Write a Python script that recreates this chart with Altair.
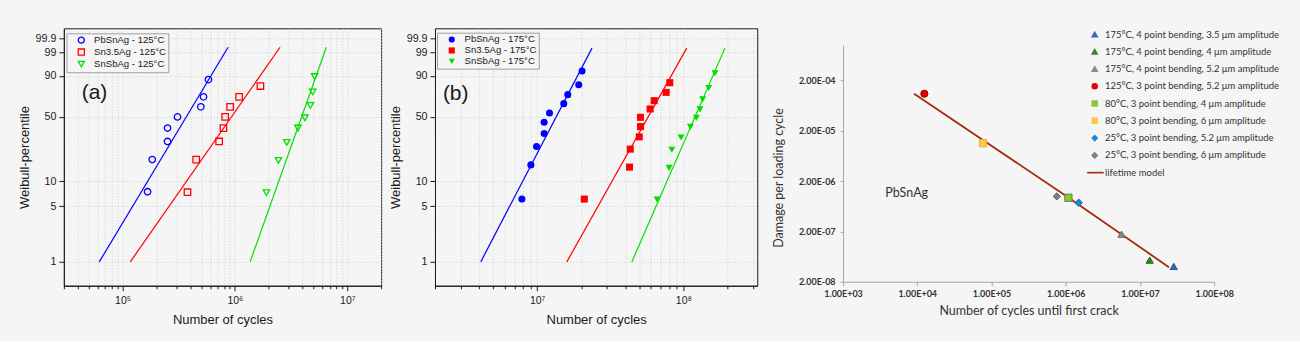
import altair as alt
import numpy as np
import pandas as pd

# ---------------- data ----------------
# Panel (a): 125 °C Weibull plot
a_series = ['PbSnAg - 125°C', 'Sn3.5Ag - 125°C', 'SnSbAg - 125°C']
a_pb_cycles = [1.668e5, 1.835e5, 2.512e5, 2.512e5, 3.08e5, 4.97e5, 5.25e5, 5.81e5]
a_pb_pct = [7.5, 18.1, 28.7, 39.4, 50.0, 60.6, 71.2, 87.3]
a_sn_cycles = [3.78e5, 4.52e5, 7.23e5, 7.90e5, 8.18e5, 9.06e5, 1.089e6, 1.685e6]
a_sn_pct = [7.4, 18.1, 28.7, 39.4, 50.0, 60.6, 71.2, 81.9]
a_sb_cycles = [1.905e6, 2.436e6, 2.89e6, 3.64e6, 4.20e6, 4.69e6, 4.92e6, 5.12e6]
a_sb_pct = [7.3, 17.7, 28.1, 39.4, 49.1, 62.0, 76.2, 89.5]
a_fit_pct = [1.0, 99.5]
a_fit_pb = [6.2e4, 8.69e5]
a_fit_sn = [1.17e5, 2.52e6]
a_fit_sb = [1.364e6, 6.51e6]

# Panel (b): 175 °C Weibull plot
b_series = ['PbSnAg - 175°C', 'Sn3.5Ag - 175°C', 'SnSbAg - 175°C']
b_pb_cycles = [7.86e6, 9.05e6, 9.90e6, 1.116e7, 1.116e7, 1.214e7, 1.52e7, 1.619e7, 1.924e7, 2.027e7]
b_pb_pct = [6.1, 15.7, 25.3, 34.7, 44.8, 54.1, 64.0, 73.5, 83.1, 92.9]
b_sn_cycles = [2.10e7, 4.28e7, 4.33e7, 4.99e7, 5.09e7, 5.09e7, 5.92e7, 6.31e7, 7.62e7, 8.07e7]
b_sn_pct = [6.1, 14.8, 23.7, 32.1, 40.7, 49.6, 58.3, 67.2, 75.8, 84.8]
b_sb_cycles = [6.61e7, 7.99e7, 8.33e7, 9.64e7, 1.116e8, 1.226e8, 1.299e8, 1.354e8, 1.488e8, 1.644e8]
b_sb_pct = [6.0, 14.5, 23.3, 31.6, 40.4, 49.0, 57.9, 68.6, 80.1, 91.6]
b_fit_pct = [1.0, 99.43]
b_fit_pb = [4.11e6, 2.37e7]
b_fit_sn = [1.594e7, 1.054e8]
b_fit_sb = [4.44e7, 1.924e8]

# Weibull axis tick labels (percent)
pct_ticks = [1, 5, 10, 50, 90, 99, 99.9]

# Panel (c): damage per loading cycle vs cycles until first crack
c_series = [
    '175°C, 4 point bending, 3.5 μm amplitude',
    '175°C, 4 point bending, 4 μm amplitude',
    '175°C, 4 point bending, 5.2 μm amplitude',
    '125°C, 3 point bending, 5.2 μm amplitude',
    '80°C, 3 point bending, 4 μm amplitude',
    '80°C, 3 point bending, 6 μm amplitude',
    '25°C, 3 point bending, 5.2 μm amplitude',
    '25°C, 3 point bending, 6 μm amplitude',
]
c_cycles = [2.85e7, 1.352e7, 5.65e6, 1.245e4, 1.087e6, 7.68e4, 1.495e6, 7.57e5]
c_damage = [4.03e-8, 5.37e-8, 1.76e-7, 1.089e-4, 9.35e-7, 1.131e-5, 7.45e-7, 9.94e-7]
model_name = 'lifetime model'
model_cycles = [9.05e3, 1.0e6, 2.455e7]
model_damage = [1.089e-4, 1.026e-6, 3.9e-8]
c_x_ticks = [1e3, 1e4, 1e5, 1e6, 1e7, 1e8]
c_y_ticks = [2e-8, 2e-7, 2e-6, 2e-5, 2e-4]

# ---------------- styling ----------------
BG = '#f5f5f5'
FONT_A = 'Liberation Sans'
FONT_C = 'Lato'
INK = '#1a1a1a'
GRID = '#cfcfcf'
ABC_COLORS = ['#0000ff', '#ff0000', '#00e000']

SUP = str.maketrans('0123456789-', '⁰¹²³⁴⁵⁶⁷⁸⁹⁻')


def weib(p):
    p = np.asarray(p, dtype=float) / 100.0
    return np.log(-np.log(1.0 - p))


def pct_label_expr(ticks):
    expr = "''"
    for t, w in zip(ticks, weib(ticks)):
        expr = f"abs(datum.value - ({w:.10f})) < 1e-6 ? '{t:g}' : ({expr})"
    return expr


def pow_label_expr(exps):
    expr = "''"
    for e in exps:
        expr = (f"abs(log(datum.value)/LN10 - ({e})) < 1e-6 ? "
                f"'10{str(e).translate(SUP)}' : ({expr})")
    return expr


def log_minor(lo, hi):
    vals = []
    e = int(np.floor(np.log10(lo)))
    while 10.0 ** e <= hi:
        for k in range(2, 10):
            v = k * 10.0 ** e
            if lo <= v <= hi:
                vals.append(float(v))
        e += 1
    return vals


def frame(series, xs_list, ps_list):
    rows = []
    for s, xs, ps in zip(series, xs_list, ps_list):
        for x, p in zip(xs, ps):
            rows.append({'series': s, 'cycles': x, 'pct': p})
    df = pd.DataFrame(rows)
    df['w'] = weib(df['pct'])
    return df


def weibull_panel(series, pt_x, pt_p, fit_x, fit_p, shapes, filled, xdom,
                  tag, tag_x, tag_p, leg_x, leg_y, width, height, msize):
    pts = frame(series, pt_x, pt_p)
    fit = frame(series, fit_x, [fit_p] * len(series))
    ann = pd.DataFrame({'cycles': [tag_x], 'w': weib([tag_p]), 'label': [tag]})

    xscale = alt.Scale(type='log', domain=xdom, nice=False)
    yscale = alt.Scale(domain=[float(v) for v in weib([0.5, 99.99])], nice=False, zero=False)
    e0 = int(np.ceil(np.log10(xdom[0])))
    e1 = int(np.floor(np.log10(xdom[1])))
    exps = list(range(e0, e1 + 1))
    majors = [10.0 ** e for e in exps]
    minors = log_minor(*xdom)

    leg = alt.Legend(title=None, orient='none', legendX=leg_x, legendY=leg_y,
                     fillColor=BG, strokeColor='#a0a0a0', padding=2,
                     labelFont=FONT_A, labelFontSize=9.6, labelColor=INK,
                     symbolSize=38, symbolStrokeWidth=1.3, rowPadding=0,
                     symbolOffset=8, labelOffset=8)

    y_axis = alt.Axis(values=[float(v) for v in weib(pct_ticks)],
                      labelExpr=pct_label_expr(pct_ticks), tickSize=5,
                      title='Weibull-percentile', grid=True, gridColor=GRID,
                      gridDash=[1, 2], domainColor=INK, tickColor=INK,
                      labelColor=INK, titleColor=INK, labelFont=FONT_A,
                      labelFontSize=10.7, titleFont=FONT_A, titleFontSize=13,
                      titleFontWeight='normal', labelPadding=3, titlePadding=4,
                      labelOverlap=False, labelFlush=False)

    # the fit lines use their own stroke scale (reversed order so that its
    # hidden legend is not merged with the visible marker legend)
    lines = alt.Chart(fit).mark_line(strokeWidth=1.2, clip=True).encode(
        x=alt.X('cycles:Q', scale=xscale,
                axis=alt.Axis(values=minors, labels=False, tickSize=3, title=None,
                              orient='bottom', grid=True, gridColor=GRID, gridDash=[1, 2],
                              domain=False, tickColor=INK)),
        y=alt.Y('w:Q', scale=yscale, axis=y_axis),
        stroke=alt.Stroke('series:N',
                          scale=alt.Scale(domain=series[::-1], range=ABC_COLORS[::-1]),
                          legend=None),
        detail='series:N',
    )

    points = alt.Chart(pts).mark_point(filled=filled, size=msize, strokeWidth=1.3,
                                       opacity=1).encode(
        x=alt.X('cycles:Q', scale=xscale,
                axis=alt.Axis(values=majors, labelExpr=pow_label_expr(exps), tickSize=5,
                              title='Number of cycles', orient='bottom', grid=True,
                              gridColor=GRID, gridDash=[1, 2], domainColor=INK,
                              tickColor=INK, labelColor=INK, titleColor=INK,
                              labelFont=FONT_A, labelFontSize=10.5, titleFont=FONT_A,
                              titleFontSize=13, titleFontWeight='normal',
                              labelPadding=5, titlePadding=7, labelFlush=False,
                              labelOverlap=False)),
        y=alt.Y('w:Q', scale=yscale, axis=y_axis),
        color=alt.Color('series:N', scale=alt.Scale(domain=series, range=ABC_COLORS),
                        legend=leg),
        shape=alt.Shape('series:N', scale=alt.Scale(domain=series, range=shapes),
                        legend=leg),
    )

    tagc = alt.Chart(ann).mark_text(font=FONT_A, fontSize=21, align='center',
                                    baseline='middle', color=INK).encode(
        x=alt.X('cycles:Q', scale=xscale, axis=None),
        y=alt.Y('w:Q', scale=yscale, axis=y_axis),
        text='label:N',
    )

    return alt.layer(lines, points, tagc).resolve_axis(x='independent').properties(
        width=width, height=height, view=alt.ViewBackground(stroke=INK, strokeWidth=1))


panel_a = weibull_panel(
    a_series, [a_pb_cycles, a_sn_cycles, a_sb_cycles], [a_pb_pct, a_sn_pct, a_sb_pct],
    [a_fit_pb, a_fit_sn, a_fit_sb], a_fit_pct, ['circle', 'square', 'triangle-down'], False,
    [3e4, 2e7], '(a)', 5.62e4, 75.3, 2.7, 5, 318, 258, 42)

panel_b = weibull_panel(
    b_series, [b_pb_cycles, b_sn_cycles, b_sb_cycles], [b_pb_pct, b_sn_pct, b_sb_pct],
    [b_fit_pb, b_fit_sn, b_fit_sb], b_fit_pct, ['circle', 'square', 'triangle-down'], True,
    [2e6, 3.2e8], '(b)', 2.77e6, 74.4, 2, 4.4, 323, 258, 50)

# ---------------- panel (c) ----------------
c_dom = c_series + [model_name]
c_fill = ['#2f6fb8', '#2f8a1f', '#8a8a8a', '#e00000', '#8cc63f', '#fcc94a', '#1a86e0',
          '#808080', '#a52a0a']
c_stroke = ['#1f4f8f', '#1f6612', '#666666', '#a00000', '#4f8a1e', '#eeaa30', '#0b5aa8',
            '#5a5a5a', '#a52a0a']
c_shapes = ['triangle-up', 'triangle-up', 'triangle-up', 'circle', 'square', 'square',
            'diamond', 'diamond', 'M-3.1,0L3.7,0']

pts_c = pd.DataFrame({'series': c_series, 'cycles': c_cycles, 'damage': c_damage})
line_c = pd.DataFrame({'series': [model_name] * len(model_cycles), 'cycles': model_cycles,
                       'damage': model_damage})
lab_c = pd.DataFrame({'cycles': [7.2e3], 'damage': [1.156e-6], 'label': ['PbSnAg']})

cx = alt.Scale(type='log', domain=[1e3, 1e8], nice=False)
cy = alt.Scale(type='log', domain=[2e-8, 1e-3], nice=False)
AXC = '#a6a6a6'
leg_c = alt.Legend(title=None, orient='none', legendX=247.5, legendY=-15.5, padding=0,
                   labelFont=FONT_C, labelFontSize=9.5, labelColor='#333333',
                   symbolSize=24, symbolStrokeWidth=1.6, rowPadding=5.3, labelOffset=5.6,
                   labelLimit=400)

x_c_axis = alt.Axis(values=c_x_ticks,
                    labelExpr="'1.00E+' + (round(log(datum.value)/LN10) < 10 ? '0' : '') + round(log(datum.value)/LN10)",
                    title='Number of cycles until first crack', grid=False, tickSize=4,
                    domainColor=AXC, tickColor=AXC, labelFont=FONT_C, labelFontSize=9,
                    labelFontWeight='bold', labelColor='#333333', titleFont=FONT_C,
                    titleFontSize=12.5, titleFontWeight='normal', titleColor='#333333',
                    labelPadding=4, titlePadding=6, labelFlush=False, labelOverlap=False)
y_c_axis = alt.Axis(values=c_y_ticks,
                    labelExpr="'2.00E-0' + (-floor(log(datum.value)/LN10))",
                    title='Damage per loading cycle', grid=False, tickSize=3,
                    domainColor=AXC, tickColor=AXC, labelFont=FONT_C, labelFontSize=9,
                    labelFontWeight='bold', labelColor='#333333', titleFont=FONT_C,
                    titleFontSize=12.5, titleFontWeight='normal', titleColor='#333333',
                    labelPadding=5, titlePadding=13, titleY=132.5, labelFlush=False,
                    labelOverlap=False)

model_line = alt.Chart(line_c).mark_line(strokeWidth=1.8).encode(
    x=alt.X('cycles:Q', scale=cx, axis=x_c_axis),
    y=alt.Y('damage:Q', scale=cy, axis=y_c_axis),
    color=alt.Color('series:N', scale=alt.Scale(domain=c_dom, range=c_fill), legend=leg_c),
)
points_c = alt.Chart(pts_c).mark_point(filled=True, size=52, strokeWidth=1, opacity=1).encode(
    x=alt.X('cycles:Q', scale=cx, axis=x_c_axis),
    y=alt.Y('damage:Q', scale=cy, axis=y_c_axis),
    color=alt.Color('series:N', scale=alt.Scale(domain=c_dom, range=c_fill), legend=leg_c),
    stroke=alt.Stroke('series:N', scale=alt.Scale(domain=c_dom, range=c_stroke), legend=leg_c),
    shape=alt.Shape('series:N', scale=alt.Scale(domain=c_dom, range=c_shapes), legend=leg_c),
)
text_c = alt.Chart(lab_c).mark_text(font=FONT_C, fontSize=12.5, color='#333333',
                                    align='center', baseline='middle').encode(
    x=alt.X('cycles:Q', scale=cx, axis=x_c_axis),
    y=alt.Y('damage:Q', scale=cy, axis=y_c_axis),
    text='label:N',
)
panel_c = alt.layer(model_line, points_c, text_c).properties(
    width=372, height=237, view=alt.ViewBackground(stroke=None))

# an empty 1-px spacer above panel (c) so that its legend is laid out inside the
# column instead of pulling all plot areas down
spacer = alt.Chart(pd.DataFrame({'v': [0]})).mark_rule(strokeOpacity=0).encode(
    x=alt.value(0)).properties(width=1, height=1, view=alt.ViewBackground(stroke=None))

IND = dict(color='independent', shape='independent', stroke='independent')

inner = alt.hconcat(panel_a, panel_b, spacing=6).resolve_scale(**IND).resolve_legend(**IND)
right = alt.vconcat(spacer, panel_c, spacing=0).resolve_scale(**IND).resolve_legend(**IND)
chart = alt.hconcat(inner, right, spacing=14).resolve_scale(**IND).resolve_legend(
    **IND).properties(
    padding={'left': 17, 'top': 27, 'right': 20, 'bottom': 14},
    background=BG,
)

chart.save('out.html', embed_options={'renderer': 'svg', 'actions': False})
